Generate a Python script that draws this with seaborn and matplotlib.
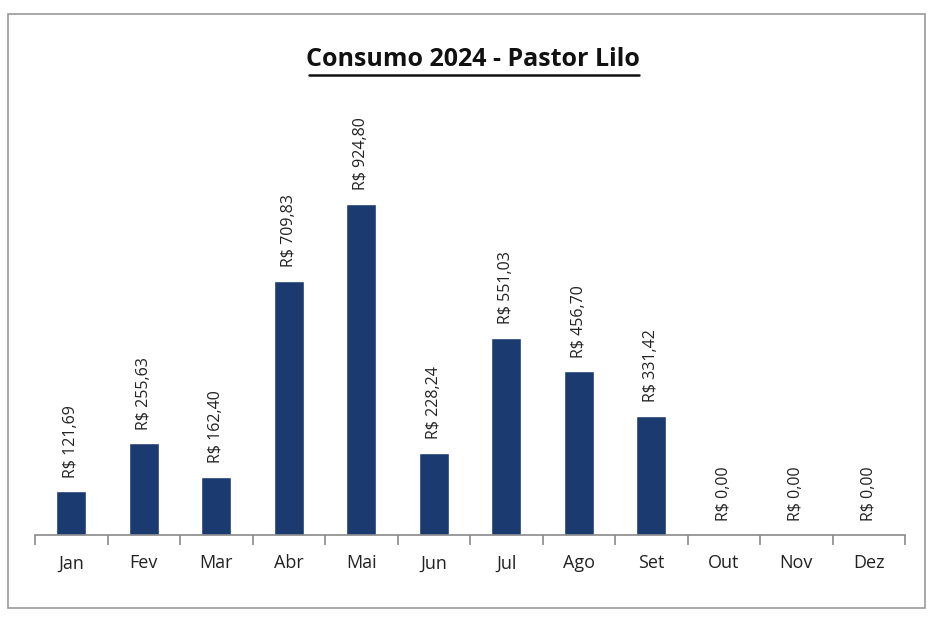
import matplotlib.pyplot as plt
import matplotlib.patches as mpatches
import pandas as pd
import seaborn as sns

# data
months = ["Jan", "Fev", "Mar", "Abr", "Mai", "Jun", "Jul", "Ago", "Set", "Out", "Nov", "Dez"]
values = [121.69, 255.63, 162.40, 709.83, 924.80, 228.24, 551.03, 456.70, 331.42, 0.0, 0.0, 0.0]
title = "Consumo 2024 - Pastor Lilo"

df = pd.DataFrame({"mes": months, "valor": values})

sns.set_style("white")
plt.rcParams["font.family"] = ["Open Sans", "DejaVu Sans"]

fig = plt.figure(figsize=(9.35, 6.18), dpi=100)
ax = fig.add_axes([35 / 935, 1 - 535 / 618, 870 / 935, 435 / 618])

sns.barplot(data=df, x="mes", y="valor", color="#1b3a70", width=0.42,
            saturation=1, ax=ax)

# value labels
labels = ["R$ " + f"{v:,.2f}".replace(",", "X").replace(".", ",").replace("X", ".")
          for v in values]
ax.bar_label(ax.containers[0], labels=labels, rotation=90, padding=10,
             fontsize=11.5, color="#222222")

ax.set_ylim(0, 1215)
ax.set_xlim(-0.5, 11.5)
ax.set_xlabel("")
ax.set_ylabel("")
ax.set_yticks([])

for side in ["top", "right", "left"]:
    ax.spines[side].set_visible(False)
ax.spines["bottom"].set_color("#8a8a8a")
ax.spines["bottom"].set_linewidth(1.2)

ax.set_xticks([i - 0.5 for i in range(13)], minor=True)
ax.tick_params(axis="x", which="minor", bottom=True, length=7, color="#8a8a8a",
               width=1.2, direction="out")
ax.tick_params(axis="x", which="major", bottom=False, length=0, pad=14,
               labelsize=13, labelcolor="#222222")

fig.text(473 / 935, 1 - 60 / 618, title, ha="center", va="center",
         fontsize=18, fontweight="bold", color="#111111")
# underline of the title
fig.add_artist(plt.Line2D([309 / 935, 639 / 935], [1 - 75 / 618, 1 - 75 / 618],
                          color="#111111", linewidth=1.8))

# chart border
fig.add_artist(mpatches.Rectangle((8 / 935, 1 - 608 / 618), 917 / 935, 594 / 618,
                                  fill=False, edgecolor="#9a9a9a", linewidth=1.2,
                                  transform=fig.transFigure))

fig.savefig("out.png", dpi=100, facecolor="white")
